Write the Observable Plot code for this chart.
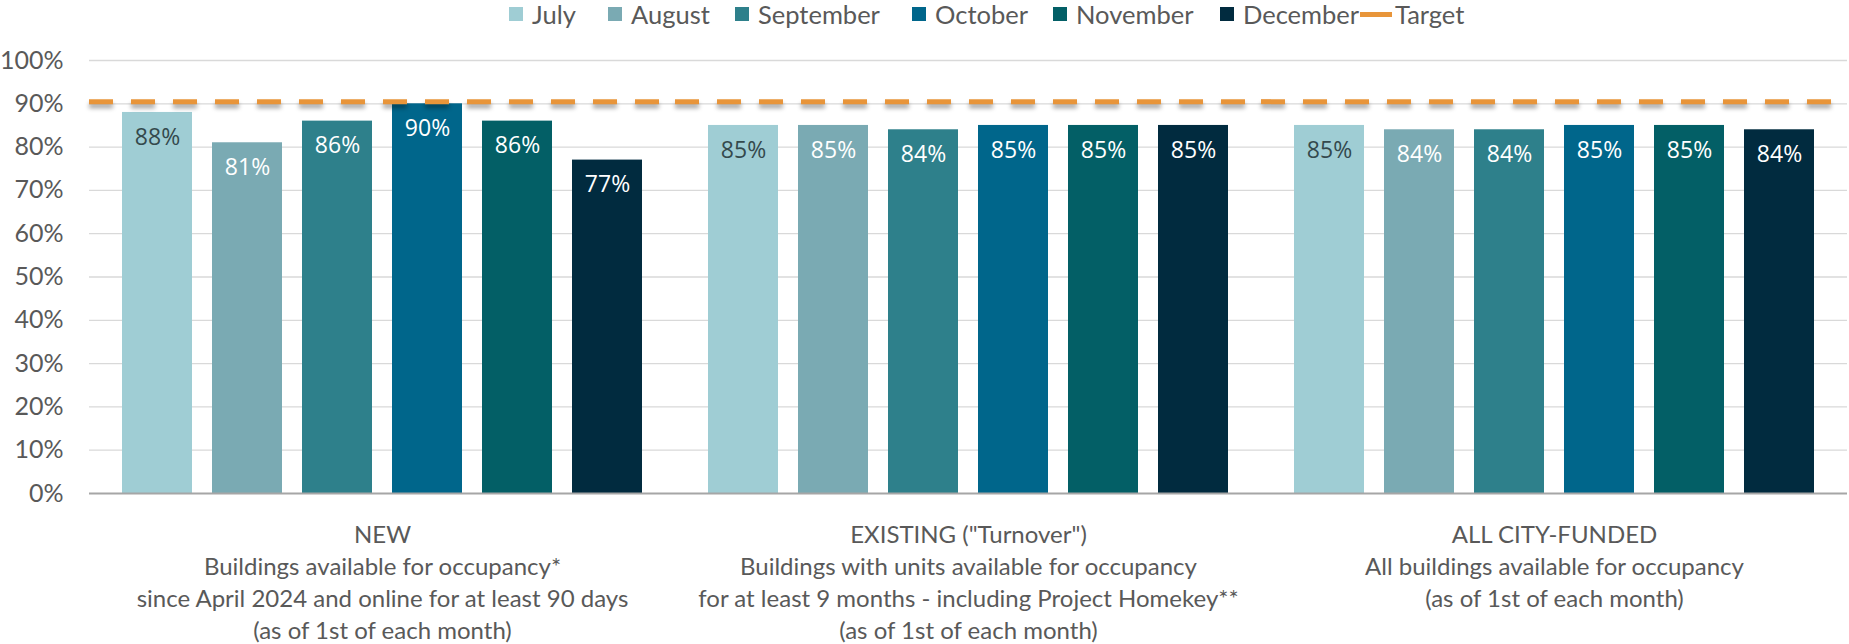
<!DOCTYPE html>
<html>
<head>
<meta charset="utf-8">
<script src="https://cdn.jsdelivr.net/npm/d3@7"></script>
<script src="https://cdn.jsdelivr.net/npm/@observablehq/plot@0.6"></script>
<style>
  html, body { margin: 0; padding: 0; background: #fff; }
  #legend { position: relative; height: 30px; font-family: Lato, sans-serif; font-size: 25.5px; color: #595959; }
  #legend .item { position: absolute; top: 0; height: 28px; display: flex; align-items: center; white-space: nowrap; }
  #legend .sw { width: 14px; height: 14px; margin-right: 9px; display: inline-block; }
  #legend .ln { width: 32px; height: 5px; margin-right: 3px; display: inline-block; }
</style>
</head>
<body>
<div id="legend"></div>
<div id="chart"></div>
<script>
const groupKeys = ["NEW", "EXISTING", "ALL"];
const groupLabels = [
  "NEW\nBuildings available for occupancy*\nsince April 2024 and online for at least 90 days\n(as of 1st of each month)",
  "EXISTING (\"Turnover\")\nBuildings with units available for occupancy\nfor at least 9 months - including Project Homekey**\n(as of 1st of each month)",
  "ALL CITY-FUNDED\nAll buildings available for occupancy\n(as of 1st of each month)"
];
const months = ["July", "August", "September", "October", "November", "December"];
const newValues = [0.88, 0.81, 0.86, 0.90, 0.86, 0.77];
const existingValues = [0.85, 0.85, 0.84, 0.85, 0.85, 0.85];
const allValues = [0.85, 0.84, 0.84, 0.85, 0.85, 0.84];
const targetValue = 0.905;
const monthColors = ["#9fcdd4", "#7aaab3", "#2e808b", "#00668b", "#035f66", "#012b3f"];
const targetColor = "#E8953A";
const yTicks = [0, 0.1, 0.2, 0.3, 0.4, 0.5, 0.6, 0.7, 0.8, 0.9, 1.0];
const legendLabels = ["July", "August", "September", "October", "November", "December", "Target"];

const seriesByGroup = [newValues, existingValues, allValues];
const data = [];
groupKeys.forEach((g, gi) => {
  months.forEach((m, mi) => data.push({group: g, month: m, value: seriesByGroup[gi][mi]}));
});
const groupData = groupKeys.map((g, i) => ({group: g, label: groupLabels[i]}));
const pct = d => Math.round(d * 100) + "%";

// Legend (layout offsets of each entry)
const legendLeft = [509, 608, 735, 912, 1053, 1220, 1360];
const legend = document.getElementById("legend");
legendLabels.forEach((m, i) => {
  const it = document.createElement("span");
  it.className = "item";
  it.style.left = legendLeft[i] + "px";
  it.innerHTML = i < months.length
    ? `<span class="sw" style="background:${monthColors[i]}"></span>${m}`
    : `<span class="ln" style="background:${targetColor}"></span>${m}`;
  legend.appendChild(it);
});

const chart = Plot.plot({
  width: 1849,
  height: 614,
  marginLeft: 88,
  marginRight: 1,
  marginTop: 30,
  marginBottom: 151,
  style: {fontFamily: "Lato, sans-serif", background: "#fff", overflow: "visible"},
  fx: {domain: groupKeys, padding: 0, axis: null},
  x: {domain: months, paddingInner: 0.22, paddingOuter: 0.34, axis: null},
  y: {domain: [0, 1], axis: null},
  color: {domain: months, range: monthColors},
  marks: [
    Plot.gridY(yTicks.filter(d => d > 0), {stroke: "#d9d9d9", strokeOpacity: 1, strokeWidth: 1.3}),
    Plot.axisY(yTicks, {tickSize: 0, tickPadding: 26, tickFormat: pct, fontSize: 25, fill: "#595959", label: null}),
    Plot.barY(data, {fx: "group", x: "month", y: "value", fill: "month"}),
    Plot.ruleY([0], {stroke: "#a6a6a6", strokeWidth: 2}),
    Plot.text(data.filter(d => d.month === "July"), {fx: "group", x: "month", y: "value", dy: 25,
      text: d => pct(d.value), fill: "#34494d", fontFamily: "Open Sans, sans-serif", fontSize: 23}),
    Plot.text(data.filter(d => d.month !== "July"), {fx: "group", x: "month", y: "value", dy: 25,
      text: d => pct(d.value), fill: "#ffffff", fontFamily: "Open Sans, sans-serif", fontSize: 23}),
    Plot.ruleY([targetValue], {stroke: targetColor, strokeWidth: 5, strokeDasharray: "24,18"}),
    Plot.text(groupData, {fx: "group", text: "label", frameAnchor: "bottom", lineAnchor: "top",
      dy: 27, fontSize: 24, lineHeight: 1.333, fill: "#595959"})
  ]
});
document.getElementById("chart").appendChild(chart);
chart.querySelectorAll(`[stroke="${targetColor}"]`).forEach(el => {
  el.style.filter = "drop-shadow(0px 4px 2px rgba(0,0,0,0.35))";
});
</script>
</body>
</html>
